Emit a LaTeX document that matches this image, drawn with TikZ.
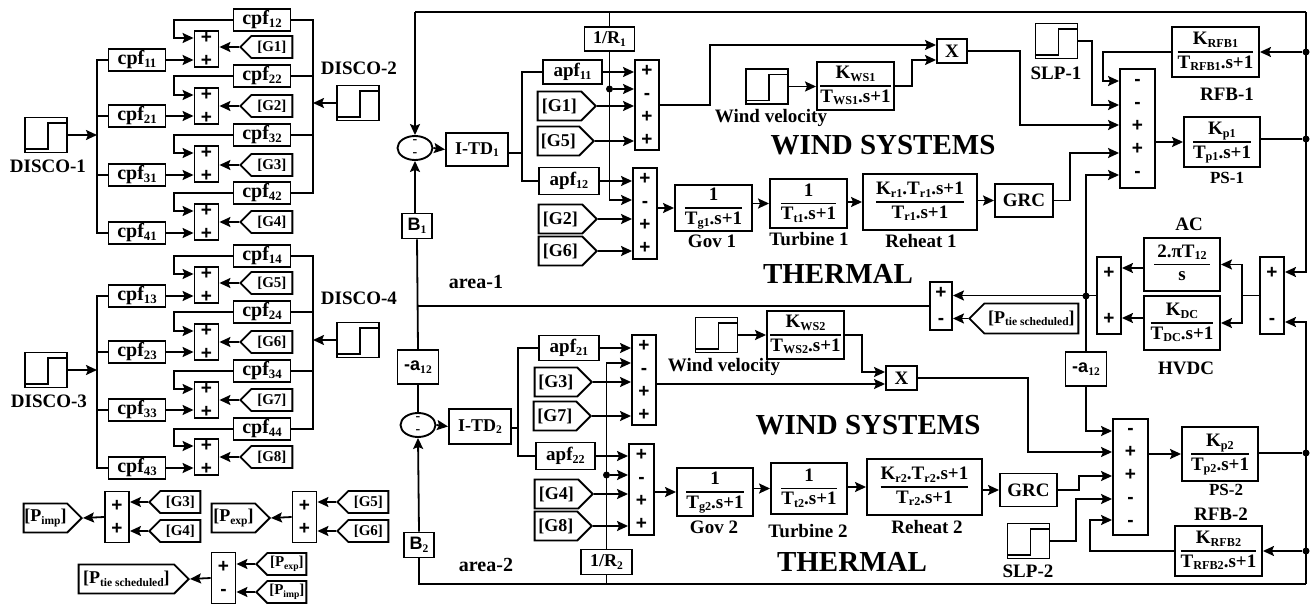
\documentclass[tikz,border=0pt]{standalone}
\usepackage{fontspec}
\setmainfont{Liberation Serif}
\newfontfamily\blocksans{Liberation Sans}
\usetikzlibrary{arrows.meta, shapes.geometric, shapes.symbols}

\newcommand{\sbs}[1]{\raisebox{-2.5pt}{\scalebox{0.64}{#1}}}
\newcommand{\signfont}[1]{\blocksans\bfseries\fontsize{19}{#1}\selectfont}
\newcommand{\ratio}[2]{{\setlength{\arrayrulewidth}{1.7pt}\setlength{\tabcolsep}{0pt}\renewcommand{\arraystretch}{1.05}\begin{tabular}{c}#1\\\hline #2\end{tabular}}}

\tikzset{
    wire/.style={line width=1.8pt, line join=miter},
    arr/.style={wire, -{Stealth[length=11pt, width=10pt, inset=2pt]}},
    block/.style={draw, line width=1.9pt, inner sep=0pt, font=\bfseries\fontsize{18}{20}\selectfont},
    rblock/.style={block, font=\bfseries\fontsize{19}{21}\selectfont},
    box/.style 2 args={minimum width=#1pt, minimum height=#2pt},
    cpfbox/.style={block, box={57}{22}, font=\bfseries\fontsize{20}{22}\selectfont},
    sumbox/.style={block, align=center, minimum width=24pt, font=\signfont{23}},
    junction/.style={ellipse, block, box={35}{24}, align=center, font=\bfseries\fontsize{14}{13}\selectfont},
    tagr/.style 2 args={block, signal, signal to=east, signal from=nowhere, box={#1}{#2}, anchor=east},
    tagl/.style 2 args={block, signal, signal to=west, signal from=nowhere, box={#1}{#2}, anchor=west, font=\bfseries\fontsize{15}{17}\selectfont},
    stepbox/.style={block, box={42}{35}, path picture={
        \draw[line width=1.8pt] ([yshift=3.5pt]path picture bounding box.south west)
            -- ++(23,0) -- ++(0,-26) -- ++(19,0);}},
    dot/.style={circle, fill=black, inner sep=0pt, minimum size=7pt},
    lbl/.style={inner sep=0pt, font=\bfseries\fontsize{19}{21}\selectfont},
    biglbl/.style={inner sep=0pt, font=\bfseries\fontsize{29}{31}\selectfont},
}

\begin{document}
\begin{tikzpicture}[x=1pt, y=-1pt]
    \useasboundingbox (0,0) rectangle (1312,604);

    % DISCO sources
    \node[stepbox] (discoa) at (46,135) {};
    \node[stepbox] (discob) at (358,103) {};
    \node[stepbox] (discoc) at (46,370) {};
    \node[stepbox] (discod) at (358,340) {};
    \node[lbl] (discoatxt) at (48,166) {DISCO-1};
    \node[lbl] (discobtxt) at (359,68) {DISCO-2};
    \node[lbl] (discoctxt) at (49,401) {DISCO-3};
    \node[lbl] (discodtxt) at (359,298) {DISCO-4};
    \coordinate (busla) at (97,135);
    \coordinate (busra) at (313,103);
    \coordinate (buslb) at (97,370);
    \coordinate (busrb) at (313,340);
    \draw[arr] (discoa.east) -- (busla);
    \draw[arr] (discob.west) -- (busra);
    \draw[arr] (discoc.east) -- (buslb);
    \draw[arr] (discod.west) -- (busrb);

    % Contract participation groups
    \foreach \n/\ca/\cb/\yt/\yg/\ys/\yb/\bl/\br in {
        1/11/12/20/47/49/60/busla/busra, 2/21/22/76/106/106/116/busla/busra,
        3/31/32/135/165/164/175/busla/busra, 4/41/42/193/222/222/233/busla/busra,
        5/13/14/256/283/285/296/buslb/busrb, 6/23/24/312/342/342/352/buslb/busrb,
        7/33/34/371/400/400/410/buslb/busrb, 8/43/44/429/457/457/468/buslb/busrb} {
        \pgfmathsetmacro{\yu}{\ys-11}
        \node[sumbox, minimum height=36pt] (cs\n) at (206.5,\ys) {+\\+};
        \node[cpfbox] (cu\n) at (262,\yt) {cpf\sbs{\cb}};
        \node[cpfbox] (cd\n) at (137,\yb) {cpf\sbs{\ca}};
        \node[tagl={52}{22}] (cg\n) at (239,\yg) {[G\n]};
        \draw[arr] (cd\n.east) -- (cs\n.west |- cd\n.east);
        \draw[arr] (cg\n.west) -- (cs\n.east |- cg\n.west);
        \draw[arr] (cu\n.west) -| (174,\yu) -- (cs\n.west |- 0,\yu);
        \draw[wire] (cd\n.west) -| (\bl);
        \draw[wire] (cu\n.east) -| (\br);
    }

    % Scheduled tie power
    \node[sumbox, box={24}{51}] (simp) at (117,517) {+\\+};
    \node[sumbox, box={24}{51}] (sexp) at (304.5,517) {+\\+};
    \node[sumbox, box={24}{51}] (ssch) at (223.5,578) {+\\-};
    \node[tagl={51}{22}] (ig) at (148,502) {[G3]};
    \node[tagl={51}{22}] (ih) at (148,531) {[G4]};
    \node[tagl={51}{22}] (eg) at (336,502) {[G5]};
    \node[tagl={51}{22}] (eh) at (336,531) {[G6]};
    \node[tagr={58}{29}] (pimp) at (83,518) {[P\sbs{imp}]};
    \node[tagr={58}{29}] (pexp) at (271,518) {[P\sbs{exp}]};
    \node[tagl={50}{22}] (xexp) at (255,564) {[P\sbs{exp}]};
    \node[tagl={50}{22}] (ximp) at (255,592) {[P\sbs{imp}]};
    \node[tagr={110}{29}] (psch) at (190,579) {[P\sbs{tie scheduled}]};
    \foreach \a/\b in {ig/simp, ih/simp, eg/sexp, eh/sexp, xexp/ssch, ximp/ssch} {
        \draw[arr] (\a.west) -- (\b.east |- \a.west);
    }
    \draw[arr] (simp.west) -- (pimp.east);
    \draw[arr] (sexp.west) -- (pexp.east);
    \draw[arr] (ssch.west) -- (psch.east);

    % Area 1: control
    \coordinate (tl) at (415,12);
    \coordinate (tr) at (1306,12);
    \node[junction] (cira) at (415,148) {-\\-};
    \node[block, box={30}{25}] (ba) at (417,226) {{\blocksans B}\sbs{1}};
    \node[block, box={62}{33}] (itda) at (477,149.5) {I-TD\sbs{1}};
    \node[block, box={50}{24}] (rone) at (609.5,39) {1/R\sbs{1}};
    \node[rblock, box={59}{24}] (apfaa) at (572.5,72) {apf\sbs{11}};
    \node[rblock, box={60}{27}] (apfab) at (569,181) {apf\sbs{12}};
    \node[tagr={58}{29}] (gaa) at (597,106) {[G1]};
    \node[tagr={56}{29}] (gab) at (595,141) {[G5]};
    \node[tagr={58}{29}] (gac) at (598,219) {[G2]};
    \node[tagr={58}{29}] (gad) at (598,251) {[G6]};
    \node[sumbox, box={24}{90}] (sa) at (647,105) {+\\-\\+\\+};
    \node[sumbox, box={24}{91}] (sb) at (645,213.5) {+\\-\\+\\+};
    \node[dot] (dotra) at (609.5,89) {};
    \coordinate (busa) at (522,153);
    \draw[wire] (tl) -- (tr);
    \draw[arr] (tl) -- (cira.north);
    \draw[arr] (cira.east) -- (itda.west);
    \draw[arr] (cira.south |- ba.north) -- (cira.south);
    \draw[wire] (itda.east |- busa) -- (busa);
    \draw[wire] (apfaa.west) -| (busa) |- (apfab.west);
    \draw[wire] (rone.north |- tl) -- (rone.north);
    \draw[arr] (rone.south) |- (sb.west |- 0,200);
    \draw[arr] (dotra) -- (sa.west |- dotra);
    \foreach \a/\b in {apfaa/sa, gaa/sa, gab/sa, apfab/sb, gac/sb, gad/sb} {
        \draw[arr] (\a.east) -- (\b.west |- \a.east);
    }

    % Area 1: thermal chain
    \node[rblock, box={77}{46}] (gova) at (713.5,208) {\ratio{1}{T\sbs{g1}.s+1}};
    \node[rblock, box={77}{49}] (tura) at (808.5,203.5) {\ratio{1}{T\sbs{t1}.s+1}};
    \node[rblock, box={114}{56}] (reha) at (920,202) {\ratio{K\sbs{r1}.T\sbs{r1}.s+1}{T\sbs{r1}.s+1}};
    \node[rblock, box={58}{33}] (grca) at (1024,200.5) {GRC};
    \node[lbl] (govatxt) at (712,241) {Gov 1};
    \node[lbl] (turatxt) at (809,239) {Turbine 1};
    \node[lbl] (rehatxt) at (921,241) {Reheat 1};
    \node[biglbl] (thermala) at (838,274) {THERMAL};
    \node[lbl, font=\bfseries\fontsize{20}{22}\selectfont] (areaa) at (476,282) {area-1};
    \draw[arr] (sb.east |- gova.west) -- (gova.west);
    \draw[arr] (gova.east |- tura.west) -- (tura.west);
    \draw[arr] (tura.east |- reha.west) -- (reha.west);
    \draw[arr] (reha.east |- grca.west) -- (grca.west);

    % Area 1: wind system
    \node[stepbox] (wsa) at (767,86.5) {};
    \node[rblock, box={77}{48}] (kwsa) at (855.5,86) {\ratio{K\sbs{WS1}}{T\sbs{WS1}.s+1}};
    \node[rblock, box={30}{24}] (xa) at (952,51) {X};
    \node[lbl] (wsatxt) at (771,118) {Wind velocity};
    \node[biglbl] (winda) at (883,145) {WIND SYSTEMS};
    \draw[arr] (sa.east) -| (710,45) -- (xa.west |- 0,45);
    \draw[arr] (wsa.east) -- (kwsa.west |- wsa.east);
    \draw[arr] (kwsa.east) -| (912,60) -- (xa.west |- 0,60);

    % Area 1: power system
    \node[sumbox, box={35}{119}] (sc) at (1137.5,128.5) {-\\-\\+\\+\\-};
    \node[stepbox] (slpa) at (1056.5,41) {};
    \node[rblock, box={87}{50}] (rfba) at (1215.5,52) {\ratio{K\sbs{RFB1}}{T\sbs{RFB1}.s+1}};
    \node[rblock, box={76}{50}] (psa) at (1222,142) {\ratio{K\sbs{p1}}{T\sbs{p1}.s+1}};
    \node[lbl] (slpatxt) at (1056,73) {SLP-1};
    \node[lbl] (rfbatxt) at (1227,94) {RFB-1};
    \node[lbl, font=\bfseries\fontsize{17}{19}\selectfont] (psatxt) at (1227,178) {PS-1};
    \node[dot] (dotrfa) at (1306,52) {};
    \node[dot] (dotpsa) at (1306,139) {};
    \draw[arr] (xa.east) -| (1020,125) -- (sc.west |- 0,125);
    \draw[arr] (slpa.east) -| (1092,105) -- (sc.west |- 0,105);
    \draw[arr] (rfba.west) -| (1103,81) -- (sc.west |- 0,81);
    \draw[arr] (grca.east) -| (1070,153) -- (sc.west |- 0,153);
    \draw[arr] (sc.east |- psa.west) -- (psa.west);
    \draw[wire] (psa.east |- dotpsa) -- (dotpsa);
    \draw[arr] (dotrfa) -- (rfba.east);

    % Tie line
    \node[sumbox, box={22}{48}, font=\signfont{26}] (ts) at (941,306) {+\\-};
    \node[tagl={109}{30}, font=\bfseries\fontsize{18}{20}\selectfont] (ptie) at (968,318.5) {[P\sbs{tie scheduled}]};
    \node[sumbox, box={24}{77}, font=\signfont{46}] (se) at (1109,295.5) {+\\+};
    \node[sumbox, box={24}{77}, font=\signfont{46}] (sd) at (1272,295.5) {+\\-};
    \node[rblock, box={76}{53}] (ac) at (1182,264.5) {\ratio{\,2.πT\sbs{12}\,}{s}};
    \node[rblock, box={76}{54}] (hv) at (1182,323) {\ratio{K\sbs{DC}}{T\sbs{DC}.s+1}};
    \node[lbl] (actxt) at (1189,224) {AC};
    \node[lbl] (hvtxt) at (1186,368) {HVDC};
    \node[block, box={41}{34}] (ar) at (1086,369) {{\blocksans -a}\sbs{12}};
    \node[block, box={41}{34}] (al) at (418,367) {{\blocksans -a}\sbs{12}};
    \node[dot] (dottie) at (1086,296) {};
    \coordinate (busd) at (1242,295.5);
    \draw[wire] (sd.west) -- (busd);
    \draw[arr] (busd) |- (ac.east);
    \draw[arr] (busd) |- (hv.east);
    \draw[arr] (ac.west |- 0,268) -- (se.east |- 0,268);
    \draw[arr] (hv.west |- 0,318) -- (se.east |- 0,318);
    \draw[arr] (se.west) -- (ts.east |- se.west);
    \draw[arr] (ptie.west) -- (ts.east |- ptie.west);
    \draw[wire] (ts.west) -- (ba.south |- ts.west);
    \draw[wire] (ba.south) -- (al.north);
    \draw[arr] (ar.north) |- (sc.west |- 0,175);
    \draw[arr] (tr) |- (sd.east |- 0,272);

    % Area 2: control
    \coordinate (bl) at (419,584);
    \coordinate (br) at (1306,584);
    \node[junction] (cirb) at (418,425) {-\\-};
    \node[block, box={30}{25}] (bb) at (419,545) {{\blocksans B}\sbs{2}};
    \node[block, box={62}{35}] (itdb) at (480,426.5) {I-TD\sbs{2}};
    \node[block, box={51}{25}] (rtwo) at (606.5,562) {1/R\sbs{2}};
    \node[rblock, box={60}{25}] (apfba) at (569,348) {apf\sbs{21}};
    \node[rblock, box={59}{27}] (apfbb) at (565.5,456) {apf\sbs{22}};
    \node[tagr={57}{29}] (gba) at (593,382) {[G3]};
    \node[tagr={57}{29}] (gbb) at (592,416) {[G7]};
    \node[tagr={58}{29}] (gbc) at (594,494) {[G4]};
    \node[tagr={57}{29}] (gbd) at (593,526) {[G8]};
    \node[sumbox, box={24}{90}] (sg) at (644,380) {+\\-\\+\\+};
    \node[sumbox, box={25}{91}] (sh) at (641.5,489.5) {+\\-\\+\\+};
    \node[dot] (dotrb) at (606.5,475) {};
    \coordinate (busb) at (518,428);
    \draw[wire] (al.south) -- (cirb.north);
    \draw[arr] (cirb.east) -- (itdb.west);
    \draw[arr] (bb.north) -- (cirb.south);
    \draw[wire] (itdb.east |- busb) -- (busb);
    \draw[wire] (apfba.west) -| (busb) |- (apfbb.west);
    \draw[wire] (bb.south) |- (br);
    \draw[wire] (rtwo.south) -- (rtwo.south |- bl);
    \draw[arr] (rtwo.north) |- (sg.west |- 0,363);
    \draw[arr] (dotrb) -- (sh.west |- dotrb);
    \foreach \a/\b in {apfba/sg, gba/sg, gbb/sg, apfbb/sh, gbc/sh, gbd/sh} {
        \draw[arr] (\a.east) -- (\b.west |- \a.east);
    }

    % Area 2: thermal chain
    \node[rblock, box={76}{48}] (govb) at (715,492) {\ratio{1}{T\sbs{g2}.s+1}};
    \node[rblock, box={76}{51}] (turb) at (809,488.5) {\ratio{1}{T\sbs{t2}.s+1}};
    \node[rblock, box={115}{56}] (rehb) at (924.5,487) {\ratio{K\sbs{r2}.T\sbs{r2}.s+1}{T\sbs{r2}.s+1}};
    \node[rblock, box={57}{33}] (grcb) at (1028.5,490) {GRC};
    \node[lbl] (govbtxt) at (714,527) {Gov 2};
    \node[lbl] (turbtxt) at (808,531) {Turbine 2};
    \node[lbl] (rehbtxt) at (927,527) {Reheat 2};
    \node[biglbl] (thermalb) at (852,562) {THERMAL};
    \node[lbl, font=\bfseries\fontsize{20}{22}\selectfont] (areab) at (486,565) {area-2};
    \draw[arr] (sh.east |- govb.west) -- (govb.west);
    \draw[arr] (govb.east |- turb.west) -- (turb.west);
    \draw[arr] (turb.east |- rehb.west) -- (rehb.west);
    \draw[arr] (rehb.east |- grcb.west) -- (grcb.west);

    % Area 2: wind system
    \node[stepbox] (wsb) at (716.5,335) {};
    \node[rblock, box={77}{48}] (kwsb) at (805.5,335) {\ratio{K\sbs{WS2}}{T\sbs{WS2}.s+1}};
    \node[rblock, box={31}{24}] (xb) at (901.5,378) {X};
    \node[lbl] (wsbtxt) at (724,367) {Wind velocity};
    \node[biglbl] (windb) at (868,425) {WIND SYSTEMS};
    \draw[arr] (wsb.east) -- (kwsb.west |- wsb.east);
    \draw[arr] (kwsb.east) -| (862,372) -- (xb.west |- 0,372);
    \draw[arr] (sg.east |- 0,384) -- (xb.west |- 0,384);

    % Area 2: power system
    \node[sumbox, box={35}{116}] (sf) at (1130.5,477) {-\\+\\+\\-\\-};
    \node[stepbox] (slpb) at (1028.5,541) {};
    \node[rblock, box={87}{50}] (rfbb) at (1218.5,551) {\ratio{K\sbs{RFB2}}{T\sbs{RFB2}.s+1}};
    \node[rblock, box={76}{54}] (psb) at (1220,454) {\ratio{K\sbs{p2}}{T\sbs{p2}.s+1}};
    \node[lbl] (slpbtxt) at (1028,571) {SLP-2};
    \node[lbl, font=\bfseries\fontsize{17}{19}\selectfont] (psbtxt) at (1226,490) {PS-2};
    \node[lbl] (rfbbtxt) at (1221,514) {RFB-2};
    \node[dot] (dotpsb) at (1306,453) {};
    \node[dot] (dotrfb) at (1306,551) {};
    \draw[arr] (xb.east) -| (1028,452) -- (sf.west |- 0,452);
    \draw[arr] (ar.south) |- (sf.west |- 0,431);
    \draw[arr] (grcb.east) -| (1079,476) -- (sf.west |- 0,476);
    \draw[arr] (slpb.east) -| (1076,499) -- (sf.west |- 0,499);
    \draw[arr] (rfbb.west) -| (1090,520) -- (sf.west |- 0,520);
    \draw[arr] (sf.east |- psb.west) -- (psb.west);
    \draw[wire] (psb.east |- dotpsb) -- (dotpsb);
    \draw[arr] (dotrfb) -- (rfbb.east);
    \draw[arr] (br) |- (sd.east |- 0,322);
\end{tikzpicture}
\end{document}
